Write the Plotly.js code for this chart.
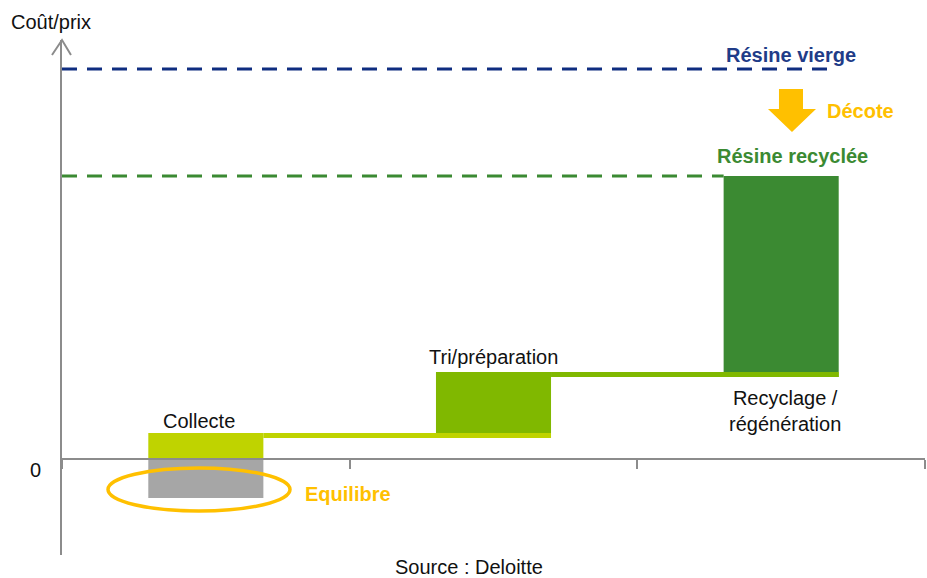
<!DOCTYPE html>
<html>
<head>
<meta charset="utf-8">
<script src="https://cdn.plot.ly/plotly-3.0.1.min.js"></script>
<style>html,body{margin:0;padding:0;background:#fff;}#chart{width:927px;height:578px;}</style>
</head>
<body>
<div id="chart"></div>
<script>
// ---- data ----
const stages = ['Collecte', 'Tri/préparation', 'Recyclage /<br>régénération'];
const stagePos = [0.5, 1.5, 2.5];
const increments = [2.6, 6.1, 19.6];     // cost added at each stage
const collecteRevenue = [-3.9];          // grey part under 0 (Equilibre)
const virginPrice = [39.0];              // Résine vierge
const tickVals = [0, 1, 2, 3];
const zeroLabel = ['0'];

// ---- styles ----
const stageColors = ['#bfd300', '#80b800', '#3b8a32'];
const greyColor = '#a6a6a6';
const axisColor = '#8c8c8c';
const navy = '#0f2d80';
const navyText = '#1f3c88';
const greenText = '#3b8a32';
const orange = '#ffc000';
const FONT = 'Liberation Sans, Arial, sans-serif';
const FS = 20;
const barW = 0.4;

// pixel helpers for decorations (plot: x 62..925 -> 0..3, y0 at px 459, 10px per unit)
const px2x = p => (p - 62) / 287.67;
const py2y = p => (459 - p) / 10;

// cumulative levels
const bases = [];
const tops = [];
let acc = 0;
increments.forEach(v => { bases.push(acc); acc += v; tops.push(acc); });
const recycledPrice = acc;

const traces = [];
// stage bars
stages.forEach((s, i) => {
  traces.push({
    type: 'bar', x: [stagePos[i]], y: [increments[i]], base: [bases[i]],
    width: [barW], marker: {color: stageColors[i], line: {width: 0}},
    hoverinfo: 'skip', showlegend: false
  });
});
// grey equilibrium bar
traces.push({
  type: 'bar', x: [stagePos[0]], y: [-collecteRevenue[0]], base: [collecteRevenue[0]],
  width: [barW], marker: {color: greyColor, line: {width: 0}},
  hoverinfo: 'skip', showlegend: false
});
// connecting lines at each level
for (let i = 0; i < stages.length - 1; i++) {
  traces.push({
    type: 'scatter', mode: 'lines',
    x: [stagePos[i] + barW / 2, stagePos[i + 1] + barW / 2],
    y: [tops[i] - 0.25, tops[i] - 0.25],
    line: {color: stageColors[i === 0 ? 0 : 1], width: 5},
    hoverinfo: 'skip', showlegend: false
  });
}
// last bar base line
traces.push({
  type: 'scatter', mode: 'lines',
  x: [stagePos[2] - barW / 2, stagePos[2] + barW / 2],
  y: [tops[1] - 0.25, tops[1] - 0.25],
  line: {color: stageColors[1], width: 5},
  hoverinfo: 'skip', showlegend: false
});
// dashed price lines
traces.push({
  type: 'scatter', mode: 'lines',
  x: [0, px2x(830)], y: [virginPrice[0], virginPrice[0]],
  line: {color: navy, width: 3, dash: '15px,10px'},
  hoverinfo: 'skip', showlegend: false
});
traces.push({
  type: 'scatter', mode: 'lines',
  x: [0, stagePos[2] - barW / 2], y: [recycledPrice, recycledPrice],
  line: {color: greenText, width: 3, dash: '15px,10px'},
  hoverinfo: 'skip', showlegend: false
});

const f = (c, b) => ({family: FONT, size: FS, color: c, weight: b ? 'bold' : 'normal'});
const ann = (text, x, y, font, extra) => Object.assign({
  text, x, y, xref: 'x', yref: 'y', showarrow: false, font, xanchor: 'center', yanchor: 'middle'
}, extra || {});

const annotations = [
  ann(stages[0], px2x(198.5), py2y(421), f('#111')),
  ann(stages[1], px2x(494), py2y(357), f('#111')),
  ann(stages[2], px2x(785), py2y(410.5), f('#111'), {align: 'center'}),
  ann('<b>Résine vierge</b>', px2x(791), py2y(55), f(navyText, true)),
  ann('<b>Résine recyclée</b>', px2x(793), py2y(156), f(greenText, true)),
  ann('<b>Décote</b>', px2x(861), py2y(111), f(orange, true)),
  ann('<b>Equilibre</b>', px2x(347.5), py2y(494), f(orange, true)),
  {text: zeroLabel[0], xref: 'paper', yref: 'y', x: (35 - 62) / 863, y: py2y(470), showarrow: false,
   font: f('#111'), xanchor: 'center', yanchor: 'middle'},
  {text: 'Coût/prix', xref: 'paper', yref: 'paper', x: (51 - 62) / 863, y: (555 - 22) / 515, showarrow: false,
   font: f('#111'), xanchor: 'center', yanchor: 'middle'},
  {text: 'Source : Deloitte', xref: 'paper', yref: 'paper', x: (469 - 62) / 863, y: (555 - 567) / 515, showarrow: false,
   font: f('#111'), xanchor: 'center', yanchor: 'middle'}
];

const P = (px, py) => px2x(px).toFixed(4) + ',' + py2y(py).toFixed(4);
const arrowPath = 'M' + P(779, 89) + 'L' + P(803, 89) + 'L' + P(803, 109) + 'L' + P(816, 109) +
  'L' + P(792, 132) + 'L' + P(768, 109) + 'L' + P(779, 109) + 'Z';
const PP = (px, py) => ((px - 62) / 863).toFixed(4) + ',' + ((555 - py) / 515).toFixed(4);

const shapes = [
  {type: 'path', xref: 'x', yref: 'y', path: arrowPath, fillcolor: orange, line: {width: 0}},
  {type: 'circle', xref: 'x', yref: 'y', x0: px2x(108), x1: px2x(290), y0: py2y(468), y1: py2y(511),
   line: {color: orange, width: 3.5}, fillcolor: 'rgba(0,0,0,0)', layer: 'above'},
  {type: 'path', xref: 'paper', yref: 'paper', path: 'M' + PP(52, 55) + 'L' + PP(62, 40) + 'L' + PP(71, 55),
   line: {color: axisColor, width: 2}}
];

const layout = {
  width: 927, height: 578,
  margin: {l: 62, r: 2, t: 40, b: 23, pad: 0},
  paper_bgcolor: '#fff', plot_bgcolor: '#fff',
  barmode: 'overlay',
  showlegend: false,
  xaxis: {range: [0, 3], anchor: 'free', position: (555 - 459) / 515,
    showline: true, linecolor: axisColor, linewidth: 2,
    ticks: 'outside', tickvals: tickVals, ticklen: 9, tickwidth: 2, tickcolor: axisColor,
    showticklabels: false, showgrid: false, zeroline: false, fixedrange: true},
  yaxis: {range: [py2y(555), py2y(40)], showline: true, linecolor: axisColor, linewidth: 2,
    showticklabels: false, ticks: '', showgrid: false, zeroline: false, fixedrange: true},
  annotations, shapes,
  font: {family: FONT}
};

Plotly.newPlot('chart', traces, layout, {staticPlot: true, displayModeBar: false});
</script>
</body>
</html>
